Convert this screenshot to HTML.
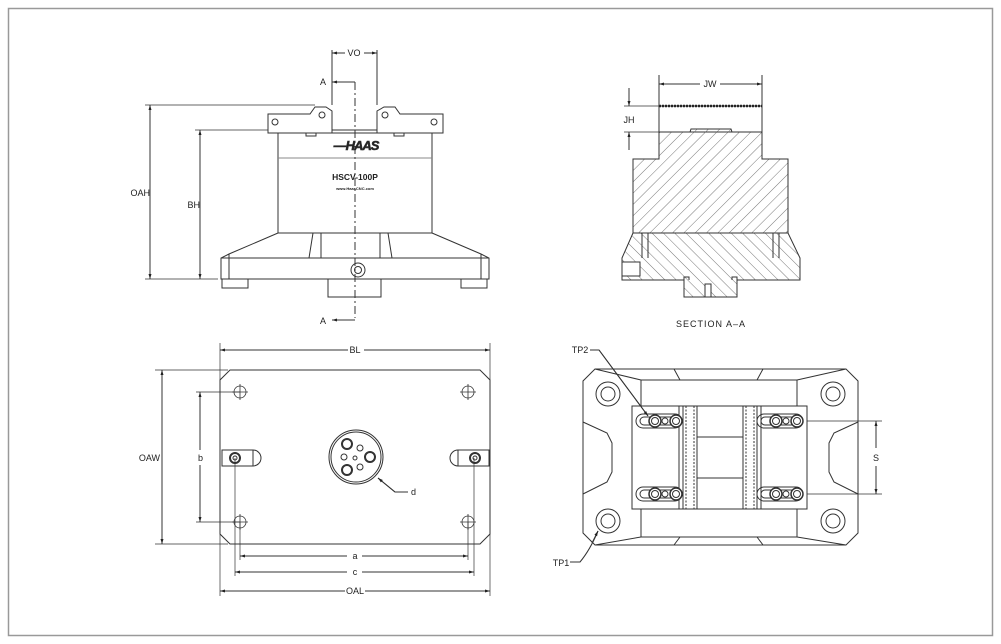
<!DOCTYPE html>
<html><head><style>body{margin:0;background:#fff}svg{display:block}text{font-family:"Liberation Sans",sans-serif;fill:#222}</style></head>
<body>
<svg width="1001" height="644" viewBox="0 0 1001 644" xmlns="http://www.w3.org/2000/svg">
<defs>
<marker id="ar" viewBox="0 0 10 10" refX="10" refY="5" markerWidth="8" markerHeight="5" orient="auto-start-reverse" markerUnits="userSpaceOnUse"><path d="M0,2 L10,5 L0,8z" fill="#222"/></marker>
<pattern id="h1" width="8" height="8" patternUnits="userSpaceOnUse" patternTransform="rotate(45)"><line x1="0" y1="0" x2="0" y2="8" stroke="#555" stroke-width="0.8"/></pattern>
<pattern id="h2" width="8" height="8" patternUnits="userSpaceOnUse" patternTransform="rotate(-45)"><line x1="0" y1="0" x2="0" y2="8" stroke="#555" stroke-width="0.8"/></pattern>
</defs>
<rect x="8.5" y="8.5" width="984" height="627" fill="#fff" stroke="#999" stroke-width="1.5"/>
<g fill="none" stroke="#333" stroke-width="1">
<!-- FRONT VIEW -->
<path d="M268,114 H310 L315,107 H326 L332,111 V133 H268Z"/>
<path d="M443,114 H400 L395,107 H384 L377,111 V133 H443Z"/>
<circle cx="275" cy="122" r="3"/><circle cx="322" cy="115" r="3"/><circle cx="385" cy="115" r="3"/><circle cx="434" cy="122" r="3"/>
<line x1="332" y1="130" x2="377" y2="130"/>
<rect x="278" y="133" width="154" height="100"/>
<line x1="278" y1="158" x2="432" y2="158" stroke="#888"/>
<rect x="306" y="133" width="10" height="3"/><rect x="394" y="133" width="10" height="3"/>
<path d="M278,233 L229,254 L221,258 V279 H489 V258 L481,254 L432,233"/>
<line x1="221" y1="258" x2="489" y2="258"/><line x1="229" y1="254" x2="229" y2="279"/><line x1="481" y1="254" x2="481" y2="279"/>
<path d="M313,233 L309,258 M321,233 V258 M380,233 V258 M388,233 L392,258"/>
<rect x="222" y="279" width="26" height="9"/><rect x="461" y="279" width="26" height="9"/>
<rect x="328" y="279" width="53" height="18"/>
<circle cx="358" cy="270" r="7"/><circle cx="358" cy="270" r="3.5"/>
<line x1="355" y1="82" x2="355" y2="318" stroke-dasharray="8,3,2,3"/>
<line x1="355" y1="82" x2="332" y2="82" marker-end="url(#ar)"/>
<line x1="355" y1="320" x2="332" y2="320" marker-end="url(#ar)"/>
<line x1="332" y1="50" x2="332" y2="105"/><line x1="377" y1="50" x2="377" y2="105"/>
<line x1="332" y1="53" x2="345" y2="53" marker-start="url(#ar)"/><line x1="364" y1="53" x2="377" y2="53" marker-end="url(#ar)"/>
<line x1="145" y1="105" x2="315" y2="105" stroke-width=".7"/>
<line x1="195" y1="130" x2="268" y2="130" stroke-width=".7"/>
<line x1="145" y1="279" x2="218" y2="279" stroke-width=".7"/>
<line x1="150" y1="105" x2="150" y2="279" marker-start="url(#ar)" marker-end="url(#ar)"/>
<line x1="200" y1="130" x2="200" y2="279" marker-start="url(#ar)" marker-end="url(#ar)"/>
<!-- SECTION -->
<g stroke="#333">
<path d="M659,106 H762 V132 H659Z" fill="#fff"/>
<path d="M659,132 H690 L691,129 H731 L732,132 H762 V159 H788 V233 H633 V159 H659Z" fill="url(#h1)"/>
<path d="M633,233 L622,258 V280 H684 V297 H737 V280 H800 V258 L788,233Z" fill="url(#h2)"/>
<path d="M642,233 V258 M648,233 V258 M773,233 V258 M779,233 V258"/>
<rect x="622" y="262" width="18" height="14" fill="#fff"/>
<path d="M684,280 V277 H689 V280 M732,280 V277 H737 V280"/>
<rect x="705" y="284" width="6" height="13" fill="#fff"/>
</g>
<line x1="659" y1="106" x2="762" y2="106" stroke="#222" stroke-width="2.5" stroke-dasharray="2,1"/>
<line x1="659" y1="75" x2="659" y2="106"/><line x1="762" y1="75" x2="762" y2="106"/>
<line x1="659" y1="84" x2="700" y2="84" marker-start="url(#ar)"/><line x1="720" y1="84" x2="762" y2="84" marker-end="url(#ar)"/>
<line x1="624" y1="106" x2="659" y2="106" stroke-width=".7"/><line x1="624" y1="132" x2="659" y2="132" stroke-width=".7"/>
<line x1="629" y1="88" x2="629" y2="106" marker-end="url(#ar)"/><line x1="629" y1="150" x2="629" y2="132" marker-end="url(#ar)"/>
<!-- PLAN LEFT -->
<path d="M230,370 H480 L490,380 V534 L480,544 H230 L220,534 V380Z"/>
<line x1="220" y1="343" x2="220" y2="596" stroke-width=".7"/><line x1="490" y1="343" x2="490" y2="596" stroke-width=".7"/>
<line x1="220" y1="350" x2="348" y2="350" marker-start="url(#ar)"/><line x1="364" y1="350" x2="490" y2="350" marker-end="url(#ar)"/>
<line x1="220" y1="591" x2="345" y2="591" marker-start="url(#ar)"/><line x1="365" y1="591" x2="490" y2="591" marker-end="url(#ar)"/>
<line x1="155" y1="370" x2="228" y2="370" stroke-width=".7"/><line x1="155" y1="544" x2="228" y2="544" stroke-width=".7"/>
<line x1="162" y1="370" x2="162" y2="544" marker-start="url(#ar)" marker-end="url(#ar)"/>
<line x1="196" y1="392" x2="240" y2="392" stroke-width=".7"/><line x1="196" y1="522" x2="240" y2="522" stroke-width=".7"/>
<line x1="200" y1="392" x2="200" y2="450" marker-start="url(#ar)"/><line x1="200" y1="465" x2="200" y2="522" marker-end="url(#ar)"/>
<g stroke-width=".8">
<circle cx="240" cy="392" r="6"/><circle cx="468" cy="392" r="6"/><circle cx="240" cy="522" r="6"/><circle cx="468" cy="522" r="6"/>
<path d="M240,384 V400 M232,392 H248 M468,384 V400 M460,392 H476 M240,514 V530 M232,522 H248 M468,514 V530 M460,522 H476"/>
</g>
<rect x="222" y="450" width="31" height="16"/><path d="M253,450 A8,8 0 0 1 253,466"/>
<rect x="458" y="450" width="31" height="16"/><path d="M458,450 A8,8 0 0 0 458,466"/>
<circle cx="235" cy="458" r="5" stroke-width="2"/><circle cx="235" cy="458" r="2"/>
<circle cx="475" cy="458" r="5" stroke-width="2"/><circle cx="475" cy="458" r="2"/>
<circle cx="356" cy="457" r="27"/><circle cx="356" cy="457" r="25"/>
<circle cx="347" cy="444" r="5" stroke-width="2"/><circle cx="370" cy="457" r="5" stroke-width="2"/><circle cx="347" cy="470" r="5" stroke-width="2"/>
<circle cx="360" cy="448" r="3"/><circle cx="344" cy="457" r="3"/><circle cx="360" cy="467" r="3"/><circle cx="355" cy="458" r="2"/>
<path d="M378,478 L395,492 H408" /><line x1="395" y1="492" x2="378" y2="478" marker-end="url(#ar)"/>
<line x1="240" y1="522" x2="240" y2="560" stroke-width=".7"/><line x1="468" y1="522" x2="468" y2="560" stroke-width=".7"/>
<line x1="235" y1="458" x2="235" y2="576" stroke-width=".7"/><line x1="474" y1="458" x2="474" y2="576" stroke-width=".7"/>
<line x1="240" y1="556" x2="347" y2="556" marker-start="url(#ar)"/><line x1="362" y1="556" x2="468" y2="556" marker-end="url(#ar)"/>
<line x1="235" y1="572" x2="347" y2="572" marker-start="url(#ar)"/><line x1="362" y1="572" x2="474" y2="572" marker-end="url(#ar)"/>
<!-- PLAN RIGHT -->
<path d="M595,369 H846 L858,381 V533 L846,545 H595 L583,533 V381Z"/>
<path d="M595,369 L641,380 M846,369 L797,380 M595,545 L641,537 M846,545 L797,537"/>
<rect x="641" y="380" width="156" height="157"/>
<path d="M674,369 L680,380 M763,369 L757,380 M674,545 L680,537 M763,545 L757,537"/>
<path d="M583,422 L607,433 L612,443 V472 L607,482 L583,494"/>
<path d="M858,422 L834,433 L829,443 V472 L834,482 L858,494"/>
<circle cx="608" cy="394" r="12"/><circle cx="608" cy="394" r="7"/>
<circle cx="833" cy="394" r="12"/><circle cx="833" cy="394" r="7"/>
<circle cx="608" cy="521" r="12"/><circle cx="608" cy="521" r="7"/>
<circle cx="833" cy="521" r="12"/><circle cx="833" cy="521" r="7"/>
<rect x="632" y="406" width="175" height="103" fill="#fff"/>
<path d="M679,406 V509 M683,406 V509 M697,406 V509 M743,406 V509 M757,406 V509 M761,406 V509"/>
<path d="M686,406 V509 M694,406 V509 M746,406 V509 M754,406 V509" stroke-dasharray="2,1.5"/>
<path d="M697,437 H743 M697,478 H743"/>
<g id="sl">
<rect x="636" y="414" width="46" height="14" rx="7"/><rect x="640" y="417" width="38" height="8" rx="4"/>
<circle cx="655" cy="421" r="6" stroke-width="1.5" fill="#fff"/><circle cx="655" cy="421" r="3.5"/>
<circle cx="665" cy="421" r="3" fill="#fff"/>
<circle cx="676" cy="421" r="6" stroke-width="1.5" fill="#fff"/><circle cx="676" cy="421" r="3.5"/>
</g>
<use href="#sl" y="73"/><use href="#sl" x="121"/><use href="#sl" x="121" y="73"/>
<line x1="807" y1="421" x2="882" y2="421" stroke-width=".7"/><line x1="807" y1="494" x2="882" y2="494" stroke-width=".7"/>
<line x1="876" y1="421" x2="876" y2="448" marker-start="url(#ar)"/><line x1="876" y1="466" x2="876" y2="494" marker-end="url(#ar)"/>
<path d="M590,350 H599 L648,416" /><line x1="599" y1="350" x2="648" y2="416" marker-end="url(#ar)"/>
<path d="M570,562 H580 Q590,550 598,531"/><line x1="592" y1="543" x2="598" y2="531" marker-end="url(#ar)"/>
</g>
<g font-size="9" text-anchor="middle">
<text x="354" y="56">VO</text>
<text x="323" y="85">A</text><text x="323" y="324">A</text>
<text x="150" y="196" text-anchor="end" dx="0">OAH</text>
<text x="200" y="208" text-anchor="end">BH</text>
<text x="710" y="87">JW</text>
<text x="629" y="123">JH</text>
<text x="711" y="327" letter-spacing="1">SECTION  A–A</text>
<text x="355" y="353">BL</text>
<text x="355" y="594">OAL</text>
<text x="355" y="559">a</text><text x="355" y="575">c</text>
<text x="160" y="461" text-anchor="end">OAW</text>
<text x="203" y="461" text-anchor="end">b</text>
<text x="411" y="495" text-anchor="start">d</text>
<text x="876" y="461">S</text>
<text x="580" y="353">TP2</text>
<text x="561" y="566">TP1</text>
<text x="355" y="180" font-weight="bold" font-size="8.5">HSCV-100P</text>
<text x="355" y="190" font-size="4" font-weight="bold">www.HaasCNC.com</text>
<text x="356" y="150" font-size="13" font-style="italic" font-weight="bold" fill="none" stroke="#333" stroke-width=".6" letter-spacing="-1">—HAAS</text>
</g>
</svg>
</body></html>
